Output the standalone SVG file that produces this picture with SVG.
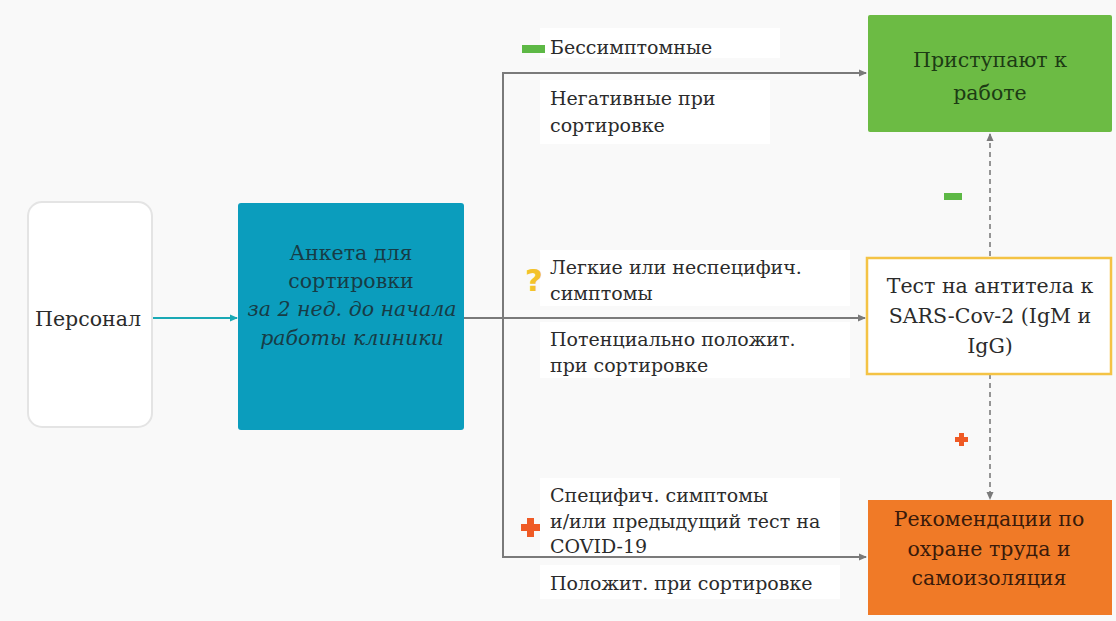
<svg xmlns="http://www.w3.org/2000/svg" width="1116" height="621" viewBox="0 0 1116 621">
<defs>
<marker id="ah" markerWidth="8" markerHeight="8" refX="7" refY="4" orient="auto" markerUnits="userSpaceOnUse"><path d="M0,0.5 L8,4 L0,7.5 z" fill="#7a7a7a"/></marker>
<marker id="aht" markerWidth="8" markerHeight="8" refX="7" refY="4" orient="auto" markerUnits="userSpaceOnUse"><path d="M0,0.5 L8,4 L0,7.5 z" fill="#1aa9b5"/></marker>
<style>
.t{font-family:"DejaVu Serif","Liberation Serif",serif;font-size:19px;fill:#2b2b2b}
.b{font-size:20.5px}
.c{text-anchor:middle}
.i{font-style:italic}
.ln{fill:none;stroke:#7a7a7a;stroke-width:2}
.dl{fill:none;stroke:#8a8a8a;stroke-width:1.8;stroke-dasharray:5,4}
.lb{fill:#ffffff}
</style>
</defs>
<rect width="1116" height="621" fill="#f9f9f9"/>
<g id="label-bg">
<rect class="lb" x="540" y="28" width="240" height="30"/>
<rect class="lb" x="540" y="80" width="230" height="64"/>
<rect class="lb" x="540" y="250" width="310" height="56"/>
<rect class="lb" x="540" y="322" width="310" height="56"/>
<rect class="lb" x="540" y="478" width="300" height="80"/>
<rect class="lb" x="540" y="565" width="300" height="34"/>
</g>
<g id="connectors">
<line x1="152" y1="318" x2="237" y2="318" stroke="#1aa9b5" stroke-width="2" marker-end="url(#aht)"/>
<line class="ln" x1="464" y1="318" x2="865" y2="318" marker-end="url(#ah)"/>
<line class="ln" x1="503" y1="73" x2="503" y2="557"/>
<line class="ln" x1="502" y1="73" x2="866" y2="73" marker-end="url(#ah)"/>
<line class="ln" x1="502" y1="557" x2="866" y2="557" marker-end="url(#ah)"/>
<line class="dl" x1="990" y1="256" x2="990" y2="134" marker-end="url(#ah)"/>
<line class="dl" x1="990" y1="374" x2="990" y2="499" marker-end="url(#ah)"/>
</g>
<g id="personal">
<rect x="28" y="202" width="124" height="225" rx="14" fill="#ffffff" stroke="#e4e4e4" stroke-width="2"/>
<text class="t b c" x="88" y="326">Персонал</text>
</g>
<g id="anketa">
<rect x="238" y="203" width="226" height="227" rx="3" fill="#0b9dbd"/>
<text class="t b c" x="351" y="260" style="fill:#173c46">Анкета для</text>
<text class="t b c" x="351" y="288" style="fill:#173c46">сортировки</text>
<text class="t b c i" x="352" y="316" style="fill:#173c46">за 2 нед. до начала</text>
<text class="t b c i" x="352" y="345" style="fill:#173c46">работы клиники</text>
</g>
<g id="work">
<rect x="868" y="15" width="244" height="117" rx="2" fill="#6cbb44"/>
<text class="t b c" x="990" y="67" style="fill:#1d3b14">Приступают к</text>
<text class="t b c" x="990" y="100" style="fill:#1d3b14">работе</text>
</g>
<g id="test">
<rect x="867" y="258" width="244" height="116" fill="#ffffff" stroke="#f4c345" stroke-width="2.5"/>
<text class="t b c" x="990" y="293">Тест на антитела к</text>
<text class="t b c" x="990" y="323">SARS-Cov-2 (IgM и</text>
<text class="t b c" x="990" y="353">IgG)</text>
</g>
<g id="isolation">
<rect x="868" y="500" width="244" height="115" fill="#f07a27"/>
<text class="t b c" x="989" y="526" style="fill:#3a1a0a">Рекомендации по</text>
<text class="t b c" x="989" y="556" style="fill:#3a1a0a">охране труда и</text>
<text class="t b c" x="989" y="585" style="fill:#3a1a0a">самоизоляция</text>
</g>
<g id="labels">
<rect x="522" y="45" width="23" height="8" fill="#5db845"/>
<text class="t" x="550" y="54">Бессимптомные</text>
<text class="t" x="550" y="105">Негативные при</text>
<text class="t" x="550" y="132">сортировке</text>
<text x="534" y="291" font-family="DejaVu Sans,sans-serif" font-weight="bold" font-size="31" fill="#f3c22b" text-anchor="middle">?</text>
<text class="t" x="550" y="274">Легкие или неспецифич.</text>
<text class="t" x="550" y="300">симптомы</text>
<text class="t" x="550" y="346">Потенциально положит.</text>
<text class="t" x="550" y="372">при сортировке</text>
<path d="M527,518 h7 v6 h6 v7 h-6 v6 h-7 v-6 h-6 v-7 h6 z" fill="#ef5a25"/>
<text class="t" x="550" y="502">Специфич. симптомы</text>
<text class="t" x="550" y="528">и/или предыдущий тест на</text>
<text class="t" x="550" y="553">COVID-19</text>
<text class="t" x="550" y="590">Положит. при сортировке</text>
<rect x="944" y="193" width="18" height="7" fill="#5db845"/>
<path d="M959,433 h5 v4 h4 v5 h-4 v4 h-5 v-4 h-4 v-5 h4 z" fill="#ef5a25"/>
</g>
</svg>
